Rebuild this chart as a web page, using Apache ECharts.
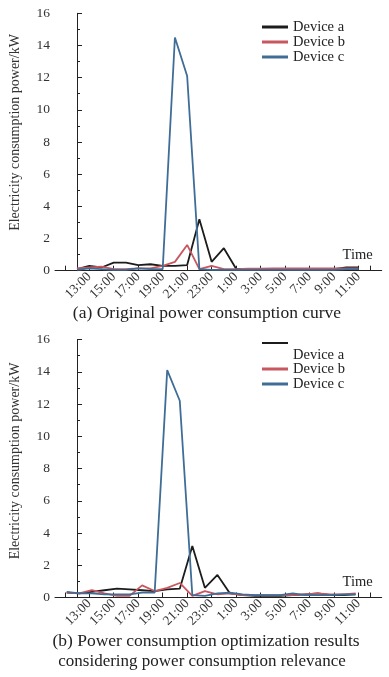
<!DOCTYPE html>
<html><head><meta charset="utf-8">
<script src="https://cdn.jsdelivr.net/npm/echarts@6/dist/echarts.min.js"></script>
<style>html,body{margin:0;padding:0;background:#fff}#c{width:389px;height:677px}</style>
</head><body><div id="c"></div>
<script>
// hourly categories, index 0 = 12:00 ... index 23 = 11:00
const hours = ['12:00','13:00','14:00','15:00','16:00','17:00','18:00','19:00','20:00','21:00','22:00','23:00','0:00','1:00','2:00','3:00','4:00','5:00','6:00','7:00','8:00','9:00','10:00','11:00'];
const tickLabels = ['13:00','15:00','17:00','19:00','21:00','23:00','1:00','3:00','5:00','7:00','9:00','11:00'];
const seriesNames = ['Device a','Device b','Device c'];
// (a) original
const origA = [0.1,0.3,0.2,0.5,0.5,0.35,0.4,0.3,0.3,0.35,3.2,0.55,1.4,0.12,0.1,0.1,0.1,0.1,0.1,0.1,0.1,0.1,0.2,0.2];
const origB = [0.15,0.2,0.25,0.1,0.1,0.15,0.15,0.3,0.55,1.6,0.1,0.3,0.1,0.1,0.12,0.12,0.15,0.15,0.15,0.15,0.15,0.15,0.15,0.15];
const origC = [0.05,0.15,0.1,0.05,0.05,0.15,0.1,0.1,14.5,12.1,0.1,0.05,0.05,0.05,0.05,0.05,0.05,0.05,0.05,0.05,0.05,0.05,0.1,0.1];
// (b) optimized
const optA = [0.3,0.25,0.35,0.45,0.55,0.5,0.45,0.4,0.5,0.55,3.2,0.6,1.4,0.25,0.15,0.1,0.1,0.1,0.15,0.2,0.25,0.15,0.15,0.2];
const optB = [0.3,0.25,0.45,0.25,0.1,0.1,0.75,0.4,0.6,0.9,0.1,0.4,0.2,0.25,0.15,0.15,0.15,0.15,0.15,0.2,0.25,0.2,0.2,0.25];
const optC = [0.35,0.25,0.25,0.2,0.2,0.2,0.3,0.3,14.1,12.2,0.15,0.1,0.25,0.3,0.2,0.15,0.15,0.15,0.25,0.15,0.15,0.15,0.2,0.2];

const colors = ['#1c1c1c','#c9575f','#3f6d96'];
const FONT = 'Liberation Serif';
const tickIdx = tickLabels.map(t => hours.indexOf(t));
const tickMarks = [-1].concat(tickIdx, [24]);

function xAxisFor(gi){
  return {
    type:'value', gridIndex:gi, min:-1.8, max:24.9,
    name:'Time', nameLocation:'end', nameGap:-9,
    nameTextStyle:{fontFamily:FONT,fontSize:14.5,color:'#222',align:'right',verticalAlign:'bottom',padding:[0,0,8,0]},
    axisLine:{lineStyle:{color:'#222',width:1}},
    axisTick:{inside:true,length:5,customValues:tickMarks,lineStyle:{color:'#222'}},
    axisLabel:{customValues:tickIdx,rotate:45,margin:4,fontFamily:FONT,fontSize:13.5,color:'#333',
      formatter:v=>hours[Math.round(v)]},
    splitLine:{show:false}
  };
}
function hiddenX(gi){
  return {type:'value',gridIndex:gi,min:-0.9356,max:25.08,show:false,splitLine:{show:false}};
}
function yAxisFor(gi,pad){
  return {
    type:'value', gridIndex:gi, min:0, max:16, interval:2,
    name:'Electricity consumption power/kW', nameLocation:'middle', nameGap:33,
    nameTextStyle:{fontFamily:FONT,fontSize:14,color:'#333',padding:[0,0,0,pad]},
    axisLine:{show:true,lineStyle:{color:'#222',width:1}},
    axisTick:{inside:true,length:5,lineStyle:{color:'#222'}},
    minorTick:{show:true,splitNumber:2,length:3,lineStyle:{color:'#222'}},
    axisLabel:{margin:5,fontFamily:FONT,fontSize:13.5,color:'#333'},
    splitLine:{show:false}
  };
}
function mk(name,arr,xi,yi,ci){
  return {type:'line',name:name,xAxisIndex:xi,yAxisIndex:yi,symbol:'none',
    lineStyle:{width:1.8,color:colors[ci]},itemStyle:{color:colors[ci]},
    data:arr.map((v,i)=>[i,v])};
}
const legText = {fontFamily:FONT,fontSize:14.5,color:'#222',lineHeight:13};
const chart = echarts.init(document.getElementById('c'),null,{renderer:'canvas'});
chart.setOption({
  backgroundColor:'#fff',
  animation:false,
  grid:[
    {left:48,top:13.3,width:333.7,height:257.4},
    {left:48,top:339.5,width:333.7,height:258}
  ],
  xAxis:[xAxisFor(0),xAxisFor(1),hiddenX(1)],
  yAxis:[yAxisFor(0,19),yAxisFor(1,15)],
  legend:[
    {orient:'vertical',left:262,top:19.5,padding:0,itemWidth:26,itemHeight:3,itemGap:0,icon:'rect',
      data:seriesNames,textStyle:legText},
    {orient:'vertical',left:262,top:319,padding:0,itemWidth:26,itemHeight:2,itemGap:0,icon:'rect',
      data:['Device a'],formatter:n=>'\n'+n,
      textStyle:{fontFamily:FONT,fontSize:14.5,color:'#222',lineHeight:24}},
    {orient:'vertical',left:262,top:361.5,padding:0,itemWidth:26,itemHeight:3,itemGap:0,icon:'rect',
      data:['Device b','Device c'],textStyle:legText}
  ],
  graphic:[
    {type:'text',x:207,y:313,style:{text:'(a) Original power consumption curve',align:'center',verticalAlign:'middle',font:'17.5px "Liberation Serif"',fill:'#222'}},
    {type:'text',x:206,y:641,style:{text:'(b) Power consumption optimization results',align:'center',verticalAlign:'middle',font:'17.5px "Liberation Serif"',fill:'#222'}},
    {type:'text',x:202,y:662,style:{text:'considering power consumption relevance',align:'center',verticalAlign:'middle',font:'17px "Liberation Serif"',fill:'#222'}}
  ],
  series:[
    mk('Device a',origA,0,0,0),mk('Device b',origB,0,0,1),mk('Device c',origC,0,0,2),
    mk('Device a',optA,2,1,0),mk('Device b',optB,2,1,1),mk('Device c',optC,2,1,2)
  ]
});
</script></body></html>
